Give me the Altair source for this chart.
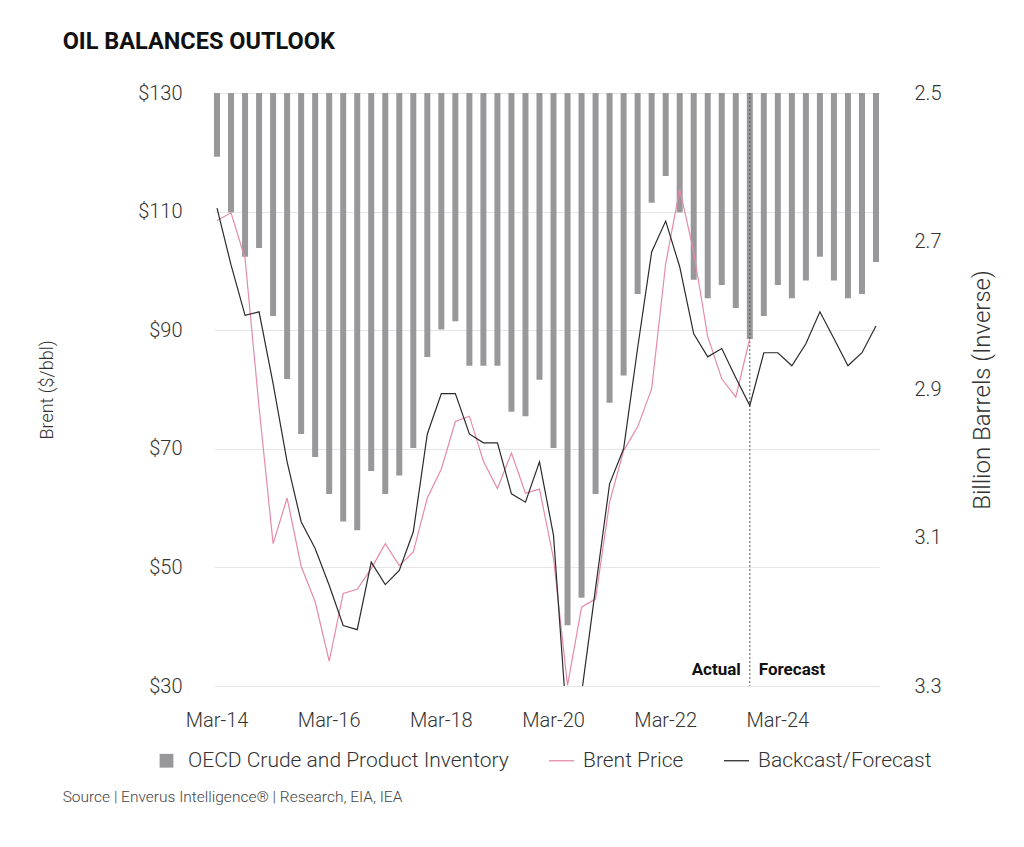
import altair as alt
import pandas as pd

# ---------------- data ----------------
QUARTERS = [f"{m}-{y:02d}" for y in range(14, 26) for m in ["Mar", "Jun", "Sep", "Dec"]]
TICK_LABELS = ["Mar-14", "Mar-16", "Mar-18", "Mar-20", "Mar-22", "Mar-24"]
SPLIT_QUARTER = "Sep-23"

SERIES = ["OECD Crude and Product Inventory", "Brent Price", "Backcast/Forecast"]
COLORS = ["#98989b", "#e58aab", "#2b2b2b"]

# OECD inventory, billion barrels (plotted on inverse axis)
INVENTORY = [2.586, 2.661, 2.721, 2.709, 2.801, 2.886, 2.960, 2.991,
             3.041, 3.078, 3.090, 3.010, 3.041, 3.016, 2.979, 2.856,
             2.819, 2.808, 2.868, 2.868, 2.868, 2.930, 2.936, 2.887,
             2.979, 3.218, 3.181, 3.041, 2.918, 2.881, 2.771, 2.648,
             2.612, 2.661, 2.752, 2.777, 2.759, 2.790, 2.832, 2.801,
             2.759, 2.777, 2.753, 2.721, 2.753, 2.777, 2.771, 2.728]

# Brent price, $/bbl (actuals, Mar-14 .. Sep-23)
BRENT = [108.5, 109.8, 102.1, 77.0, 54.0, 61.7, 50.2, 44.2,
         34.2, 45.6, 46.3, 49.8, 54.0, 50.3, 52.6, 61.7,
         66.6, 74.6, 75.5, 67.9, 63.3, 69.3, 62.5, 63.2,
         51.5, 30.1, 43.3, 44.7, 61.0, 69.7, 73.7, 80.1,
         101.2, 113.8, 103.2, 88.9, 81.8, 78.7, 88.6]

# Backcast / forecast, $/bbl
BACKCAST = [110.6, 101.0, 92.5, 93.1, 81.0, 67.8, 57.7, 53.2,
            47.0, 40.2, 39.5, 50.9, 47.1, 49.5, 56.0, 72.5,
            79.3, 79.3, 72.5, 71.0, 71.0, 62.4, 61.0, 67.8,
            55.4, 22.2, 28.7, 46.5, 64.1, 70.0, 87.0, 103.2,
            108.4, 100.7, 89.4, 85.5, 86.9, 82.0, 77.3, 86.2,
            86.2, 84.0, 87.7, 93.1, 88.6, 84.0, 86.2, 90.7]

PRICE_TICKS = [30, 50, 70, 90, 110, 130]
INV_TICKS = [2.5, 2.7, 2.9, 3.1, 3.3]

bars_df = pd.DataFrame({"quarter": QUARTERS, "inventory": INVENTORY, "series": SERIES[0]})
brent_df = pd.DataFrame({"quarter": QUARTERS[:len(BRENT)], "price": BRENT, "series": SERIES[1]})
fc_df = pd.DataFrame({"quarter": QUARTERS, "price": BACKCAST, "series": SERIES[2]})
split_df = pd.DataFrame({"quarter": [SPLIT_QUARTER], "price": [PRICE_TICKS[0]]})

FONT = "Roboto"
LBL = 20

x_def = alt.X(
    "quarter:O",
    scale=alt.Scale(domain=QUARTERS, paddingInner=0.57, paddingOuter=0),
    axis=alt.Axis(values=TICK_LABELS, labelAngle=0, title=None, ticks=False, domain=False,
                  labelPadding=24, labelFontSize=LBL, labelFont=FONT, labelFontWeight=300,
                  labelColor="#333333", grid=False),
)

IS_BAR = f"datum.value === '{SERIES[0]}'"
IS_BRENT = f"datum.value === '{SERIES[1]}'"
COLOR_EXPR = f"{IS_BAR} ? '{COLORS[0]}' : ({IS_BRENT} ? '{COLORS[1]}' : '{COLORS[2]}')"

legend = alt.Legend(
    orient="none", legendX=-58, legendY=657, title=None, direction="horizontal",
    labelFontSize=21, labelFont=FONT, labelFontWeight=300, labelColor="#333333",
    labelLimit=0, columnPadding=37, labelOffset=11,
    symbolType=alt.ExprRef(f"{IS_BAR} ? 'square' : 'stroke'"),
    symbolSize=alt.ExprRef(f"{IS_BAR} ? 190 : 625"),
    symbolStrokeWidth=alt.ExprRef(f"{IS_BAR} ? 0 : 1.3"),
    symbolFillColor=alt.ExprRef(COLOR_EXPR),
    symbolStrokeColor=alt.ExprRef(COLOR_EXPR),
    symbolOpacity=1,
)

color_def = alt.Color("series:N", scale=alt.Scale(domain=SERIES, range=COLORS), legend=legend)

bars = alt.Chart(bars_df).mark_bar(size=6, opacity=1).encode(
    x=x_def,
    y=alt.Y("inventory:Q",
            scale=alt.Scale(domain=[INV_TICKS[0], INV_TICKS[-1]], reverse=True, nice=False, zero=False),
            axis=alt.Axis(orient="right", values=INV_TICKS, format=".1f",
                          title="Billion Barrels (Inverse)", grid=False, ticks=False, domain=False,
                          labelPadding=35, labelFontSize=LBL, labelFont=FONT, labelFontWeight=300,
                          labelColor="#333333", titleFontSize=24, titleFont=FONT,
                          titleFontWeight=300, titleColor="#333333", titlePadding=54,
                          titleAngle=270)),
    y2=alt.datum(INV_TICKS[0]),
    color=color_def,
)

y_price = alt.Y(
    "price:Q",
    scale=alt.Scale(domain=[PRICE_TICKS[0], PRICE_TICKS[-1]], nice=False, zero=False),
    axis=alt.Axis(orient="left", values=PRICE_TICKS, labelExpr="'$' + datum.value",
                  title="Brent ($/bbl)", grid=True, gridColor="#e6e6e6", gridWidth=1,
                  ticks=False, domain=False, labelPadding=32, labelFontSize=LBL,
                  labelFont=FONT, labelFontWeight=300, labelColor="#333333",
                  titleFontSize=18, titleFont=FONT, titleFontWeight=300, titleColor="#333333",
                  titlePadding=81),
)

rule = alt.Chart(split_df).mark_rule(strokeDash=[2, 2], color="#555555", strokeWidth=1).encode(
    x=x_def,
)

brent_line = alt.Chart(brent_df).mark_line(strokeWidth=1.2, clip=True).encode(
    x=x_def, y=y_price, color=color_def,
)

fc_line = alt.Chart(fc_df).mark_line(strokeWidth=1.2, clip=True).encode(
    x=x_def, y=y_price, color=color_def,
)

actual_txt = alt.Chart(split_df).mark_text(
    text="Actual", align="right", baseline="middle", dx=-9, dy=-16,
    font=FONT, fontWeight="bold", fontSize=17, color="#111111",
).encode(x=x_def, y=y_price)

forecast_txt = alt.Chart(split_df).mark_text(
    text="Forecast", align="left", baseline="middle", dx=9, dy=-16,
    font=FONT, fontWeight="bold", fontSize=17, color="#111111",
).encode(x=x_def, y=y_price)

inner = alt.layer(rule, brent_line, fc_line, actual_txt, forecast_txt)

main = alt.layer(bars, inner).resolve_scale(y="independent").properties(
    width=665, height=593,
    title=alt.TitleParams("OIL BALANCES OUTLOOK", anchor="start", font=FONT, fontSize=23.5,
                          fontWeight="bold", color="#111111", dx=24, offset=30),
)

chart = alt.vconcat(main).properties(
    title=alt.TitleParams("Source | Enverus Intelligence\u00ae | Research, EIA, IEA",
                          orient="bottom", anchor="start", font=FONT, fontSize=15.5,
                          fontWeight=300, color="#444444", dx=24, offset=19),
    padding={"left": 30, "top": 21, "right": 10, "bottom": 10},
).configure_view(stroke=None).configure_concat(spacing=0)

chart.save("out.html", embed_options={"renderer": "svg", "actions": False})
